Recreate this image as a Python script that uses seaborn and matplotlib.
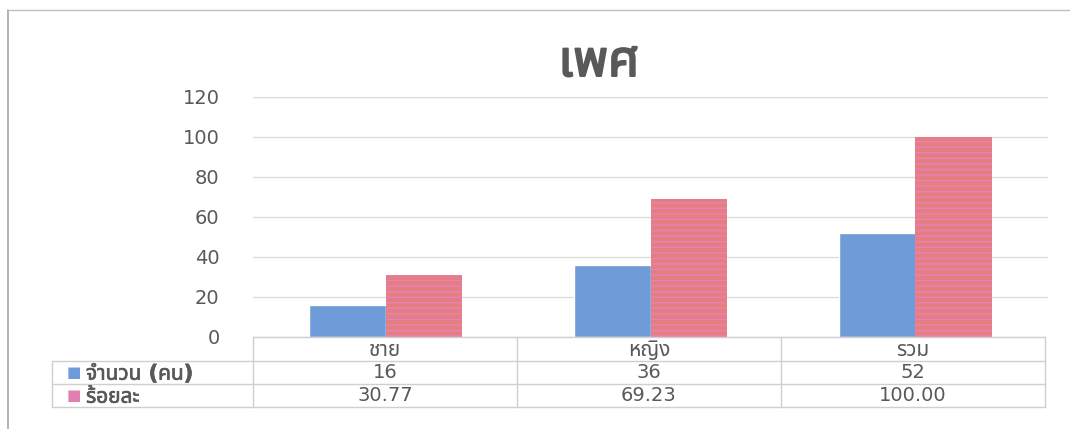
import pandas as pd
import matplotlib
matplotlib.use("Agg")
import matplotlib.pyplot as plt
import matplotlib.patheffects as pe
import seaborn as sns
from matplotlib import font_manager

# ข้อมูล
categories = ["ชาย", "หญิง", "รวม"]
series_names = ["จำนวน (คน)", "ร้อยละ"]
count_values = [16, 36, 52]
percent_values = [30.77, 69.23, 100.00]
count_labels = ["16", "36", "52"]
percent_labels = ["30.77", "69.23", "100.00"]
title_text = "เพศ"
y_ticks = [0, 20, 40, 60, 80, 100, 120]

sns.set_theme(style="white")
installed = {f.name for f in font_manager.fontManager.ttflist}
wanted = ["DejaVu Sans", "Noto Sans Thai", "Noto Sans Thai UI", "Noto Looped Thai", "Loma",
          "Garuda", "Tlwg Typo", "Kinnari", "Norasi", "Sawasdee", "Waree", "Noto Sans"]
fams = [f for f in wanted if f in installed] or ["DejaVu Sans"]
plt.rcParams['font.family'] = fams
plt.rcParams['hatch.color'] = "#e583b8"

df = pd.DataFrame({
    "cat": categories * 2,
    "serie": [series_names[0]] * 3 + [series_names[1]] * 3,
    "valor": count_values + percent_values,
})

blue = "#6f9bd9"
pink = "#e67d80"
stripe = "#e583b8"
text_col = "#595959"
bold_fx = [pe.withStroke(linewidth=0.5, foreground=text_col)]

fig = plt.figure(figsize=(10.7, 4.29), dpi=100)
ax = fig.add_axes([253 / 1070, 1 - 337 / 429, 795 / 1070, 240 / 429])
sns.barplot(data=df, x="cat", y="valor", hue="serie", palette=[blue, pink],
            width=0.575, saturation=1, legend=False, ax=ax)
for bar in ax.patches[3:6]:
    bar.set_hatch("---")
    bar.set_edgecolor(stripe)
    bar.set_linewidth(0)

ax.set_xlim(-0.5, 2.5)
ax.set_ylim(0, 120)
ax.set_yticks(y_ticks)
ax.set_yticklabels([str(t) for t in y_ticks], fontsize=14, color=text_col)
ax.tick_params(axis="y", length=0, pad=24)
ax.set_xticks([])
ax.set_xlabel("")
ax.set_ylabel("")
ax.yaxis.grid(True, color="#d9d9d9", linewidth=0.9)
ax.set_axisbelow(True)
for s in ["top", "right", "left", "bottom"]:
    ax.spines[s].set_visible(False)

fig.text(599 / 1070, 1 - 62 / 429, title_text, ha="center", va="center",
         fontsize=36, fontweight="bold", color=text_col,
         path_effects=[pe.withStroke(linewidth=1.4, foreground=text_col)])

# tabela de dados abaixo do grafico
line_col = "#cfcfcf"
tr = ax.transAxes
xl, x0, x1 = -0.253, 0.0, 0.996
rows_y = [0.0, -24 / 240, -47 / 240, -70 / 240]
col_x = [x0 + (x1 - x0) * i / 3 for i in range(4)]
ax.plot([x0, x1], [rows_y[0], rows_y[0]], transform=tr, color=line_col, lw=1, clip_on=False)
for y in rows_y[1:]:
    ax.plot([xl, x1], [y, y], transform=tr, color=line_col, lw=1, clip_on=False)
for x in col_x:
    ax.plot([x, x], [rows_y[0], rows_y[3]], transform=tr, color=line_col, lw=1, clip_on=False)
ax.plot([xl, xl], [rows_y[1], rows_y[3]], transform=tr, color=line_col, lw=1, clip_on=False)

fs = 14
for i, cat in enumerate(categories):
    cx = (col_x[i] + col_x[i + 1]) / 2
    ax.text(cx, (rows_y[0] + rows_y[1]) / 2 - 0.005, cat, transform=tr, ha="center",
            va="center", fontsize=15, color=text_col)
    ax.text(cx, (rows_y[1] + rows_y[2]) / 2, count_labels[i], transform=tr, ha="center",
            va="center", fontsize=fs, color=text_col)
    ax.text(cx, (rows_y[2] + rows_y[3]) / 2, percent_labels[i], transform=tr, ha="center",
            va="center", fontsize=fs, color=text_col)

for j, (name, col) in enumerate(zip(series_names, [blue, "#e07fb0"])):
    yc = (rows_y[j + 1] + rows_y[j + 2]) / 2
    ax.text(xl + 0.018, yc, "■", transform=tr, ha="left", va="center",
            fontsize=11, color=col, family="DejaVu Sans")
    ax.text(xl + 0.043, yc - 0.005, name, transform=tr, ha="left", va="center",
            fontsize=15, fontweight="bold", color=text_col, path_effects=bold_fx)

# borda do grafico
fig.add_artist(plt.Line2D([8 / 1070, 8 / 1070], [0, 1 - 10 / 429], color="#a6a6a6", lw=1.2))
fig.add_artist(plt.Line2D([8 / 1070, 1], [1 - 10 / 429, 1 - 10 / 429], color="#bfbfbf", lw=1.0))

fig.savefig("out.png", dpi=100)
